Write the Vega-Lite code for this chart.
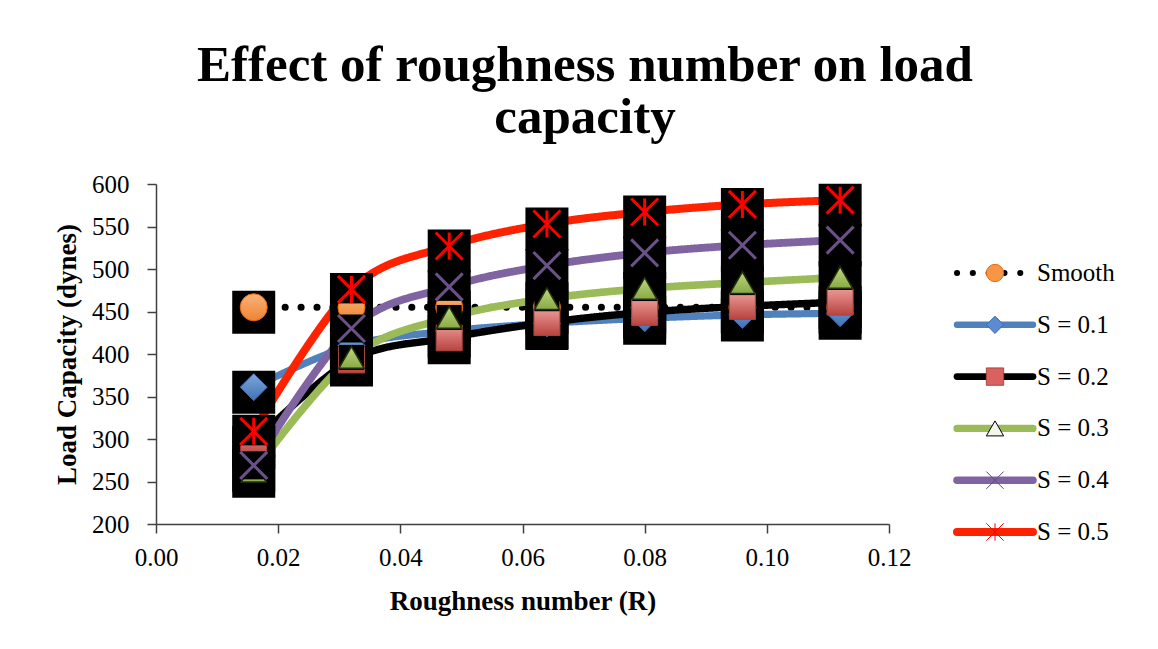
{
  "$schema": "https://vega.github.io/schema/vega-lite/v6.json",
  "background": "white",
  "padding": {"left": 53, "top": 40, "right": 4, "bottom": 4},
  "bounds": "flush",
  "spacing": 0,
  "title": {
    "text": ["Effect of roughness number on load", "capacity"],
    "font": "Liberation Serif",
    "fontSize": 51,
    "fontWeight": "bold",
    "color": "black",
    "anchor": "start",
    "align": "center",
    "frame": "group",
    "lineHeight": 52,
    "offset": 28,
    "dx": 429
  },
  "config": {
    "view": {"stroke": null},
    "axis": {
      "labelFont": "Liberation Serif",
      "labelFontSize": 25,
      "labelColor": "black",
      "labelFlush": false,
      "labelOverlap": false,
      "titleFont": "Liberation Serif",
      "titleFontSize": 27,
      "titleFontWeight": "bold",
      "titleColor": "black",
      "domainColor": "#404040",
      "tickColor": "#404040",
      "domainWidth": 1.5,
      "tickWidth": 1.5,
      "tickSize": 9,
      "grid": false
    }
  },
  "datasets": {
    "pts": [
      {"series": "Smooth", "x": 0.016, "load": 455},
      {"series": "Smooth", "x": 0.032, "load": 455},
      {"series": "Smooth", "x": 0.048, "load": 455},
      {"series": "Smooth", "x": 0.064, "load": 455},
      {"series": "Smooth", "x": 0.080, "load": 455},
      {"series": "Smooth", "x": 0.096, "load": 455},
      {"series": "Smooth", "x": 0.112, "load": 455},
      {"series": "S = 0.1", "x": 0.016, "load": 361},
      {"series": "S = 0.1", "x": 0.032, "load": 410},
      {"series": "S = 0.1", "x": 0.048, "load": 427},
      {"series": "S = 0.1", "x": 0.064, "load": 436},
      {"series": "S = 0.1", "x": 0.080, "load": 442},
      {"series": "S = 0.1", "x": 0.096, "load": 446},
      {"series": "S = 0.1", "x": 0.112, "load": 448},
      {"series": "S = 0.2", "x": 0.016, "load": 296},
      {"series": "S = 0.2", "x": 0.032, "load": 393},
      {"series": "S = 0.2", "x": 0.048, "load": 419},
      {"series": "S = 0.2", "x": 0.064, "load": 437},
      {"series": "S = 0.2", "x": 0.080, "load": 449},
      {"series": "S = 0.2", "x": 0.096, "load": 456},
      {"series": "S = 0.2", "x": 0.112, "load": 461},
      {"series": "S = 0.3", "x": 0.016, "load": 262},
      {"series": "S = 0.3", "x": 0.032, "load": 396},
      {"series": "S = 0.3", "x": 0.048, "load": 443},
      {"series": "S = 0.3", "x": 0.064, "load": 465},
      {"series": "S = 0.3", "x": 0.080, "load": 477},
      {"series": "S = 0.3", "x": 0.096, "load": 484},
      {"series": "S = 0.3", "x": 0.112, "load": 490},
      {"series": "S = 0.4", "x": 0.016, "load": 269},
      {"series": "S = 0.4", "x": 0.032, "load": 430},
      {"series": "S = 0.4", "x": 0.048, "load": 479},
      {"series": "S = 0.4", "x": 0.064, "load": 504},
      {"series": "S = 0.4", "x": 0.080, "load": 519},
      {"series": "S = 0.4", "x": 0.096, "load": 528},
      {"series": "S = 0.4", "x": 0.112, "load": 534},
      {"series": "S = 0.5", "x": 0.016, "load": 309},
      {"series": "S = 0.5", "x": 0.032, "load": 476},
      {"series": "S = 0.5", "x": 0.048, "load": 527},
      {"series": "S = 0.5", "x": 0.064, "load": 553},
      {"series": "S = 0.5", "x": 0.080, "load": 567},
      {"series": "S = 0.5", "x": 0.096, "load": 576},
      {"series": "S = 0.5", "x": 0.112, "load": 581}
    ],
    "leg": [
      {"series": "Smooth"},
      {"series": "S = 0.1"},
      {"series": "S = 0.2"},
      {"series": "S = 0.3"},
      {"series": "S = 0.4"},
      {"series": "S = 0.5"}
    ]
  },
  "hconcat": [
    {
      "width": 733,
      "height": 340,
      "data": {"name": "pts"},
      "encoding": {
        "x": {
          "field": "x",
          "type": "quantitative",
          "scale": {"domain": [0, 0.12], "nice": false},
          "axis": {
            "values": [0, 0.02, 0.04, 0.06, 0.08, 0.1, 0.12],
            "format": ".2f",
            "title": "Roughness number (R)",
            "labelPadding": 12,
            "titlePadding": 18
          }
        },
        "y": {
          "field": "load",
          "type": "quantitative",
          "scale": {"domain": [200, 600], "nice": false, "zero": false},
          "axis": {
            "values": [200, 250, 300, 350, 400, 450, 500, 550, 600],
            "title": "Load Capacity (dynes)",
            "labelPadding": 18,
            "titlePadding": 10
          }
        }
      },
      "layer": [
        {
          "mark": {"type": "line", "interpolate": "cardinal", "strokeCap": "round", "strokeJoin": "round"},
          "encoding": {
            "stroke": {"field": "series", "type": "nominal", "scale": {"domain": ["Smooth", "S = 0.1", "S = 0.2", "S = 0.3", "S = 0.4", "S = 0.5"], "range": ["#000000", "#4F81BD", "#000000", "#9BBB59", "#8064A2", "#FF2200"]}, "legend": null},
            "strokeDash": {"field": "series", "type": "nominal", "scale": {"domain": ["Smooth", "S = 0.1", "S = 0.2", "S = 0.3", "S = 0.4", "S = 0.5"], "range": [[0.1, 15.7], [1, 0], [1, 0], [1, 0], [1, 0], [1, 0]]}, "legend": null},
            "strokeWidth": {"field": "series", "type": "ordinal", "scale": {"domain": ["Smooth", "S = 0.1", "S = 0.2", "S = 0.3", "S = 0.4", "S = 0.5"], "range": [7, 8, 10, 9, 9, 9]}, "legend": null}
          }
        },
        {
          "mark": {"type": "point", "shape": "square", "filled": true, "fill": "black", "strokeWidth": 0, "size": 1849, "yOffset": 5, "opacity": 1}
        },
        {
          "transform": [{"filter": "datum.series === 'Smooth'"}],
          "mark": {"type": "point", "shape": "circle", "filled": true, "opacity": 1, "size": 729, "stroke": "#E46C0A", "strokeWidth": 1,
            "fill": {"gradient": "linear", "x1": 0, "y1": 0, "x2": 0, "y2": 1, "stops": [{"offset": 0, "color": "#F9B27A"}, {"offset": 1, "color": "#EE8433"}]}}
        },
        {
          "transform": [{"filter": "datum.series === 'S = 0.1'"}],
          "mark": {"type": "point", "shape": "square", "filled": true, "fill": "black", "strokeWidth": 0, "size": 729, "opacity": 1}
        },
        {
          "transform": [{"filter": "datum.series === 'S = 0.1'"}],
          "mark": {"type": "point", "shape": "diamond", "filled": true, "opacity": 1, "size": 729, "stroke": "#3C6DB0", "strokeWidth": 1,
            "fill": {"gradient": "linear", "x1": 0, "y1": 0, "x2": 0, "y2": 1, "stops": [{"offset": 0, "color": "#7FA6DB"}, {"offset": 1, "color": "#3F72B5"}]}}
        },
        {
          "transform": [{"filter": "datum.series === 'S = 0.2'"}],
          "mark": {"type": "point", "shape": "square", "filled": true, "opacity": 1, "size": 676, "stroke": "#A94541", "strokeWidth": 1,
            "fill": {"gradient": "linear", "x1": 0, "y1": 0, "x2": 0, "y2": 1, "stops": [{"offset": 0, "color": "#EA9894"}, {"offset": 1, "color": "#B8433F"}]}}
        },
        {
          "transform": [{"filter": "datum.series === 'S = 0.3'"}],
          "mark": {"type": "point", "shape": "square", "filled": true, "fill": "black", "strokeWidth": 0, "size": 625, "opacity": 1}
        },
        {
          "transform": [{"filter": "datum.series === 'S = 0.3'"}],
          "mark": {"type": "point", "shape": "triangle-up", "filled": true, "opacity": 1, "size": 625, "stroke": "#26300F", "strokeWidth": 1.5,
            "fill": {"gradient": "linear", "x1": 0, "y1": 0, "x2": 0, "y2": 1, "stops": [{"offset": 0, "color": "#BDD77F"}, {"offset": 1, "color": "#88AA44"}]}}
        },
        {
          "transform": [{"filter": "datum.series === 'S = 0.4'"}],
          "mark": {"type": "point", "shape": "square", "filled": true, "fill": "black", "strokeWidth": 0, "size": 784, "opacity": 1}
        },
        {
          "transform": [{"filter": "datum.series === 'S = 0.4'"}],
          "mark": {"type": "point", "shape": "M-1,-1L1,1M-1,1L1,-1", "filled": false, "opacity": 1, "size": 729, "stroke": "#6A5288", "strokeWidth": 3}
        },
        {
          "transform": [{"filter": "datum.series === 'S = 0.5'"}],
          "mark": {"type": "point", "shape": "square", "filled": true, "fill": "black", "strokeWidth": 0, "size": 784, "opacity": 1}
        },
        {
          "transform": [{"filter": "datum.series === 'S = 0.5'"}],
          "mark": {"type": "point", "shape": "M-1,-1L1,1M-1,1L1,-1M0,-1L0,1", "filled": false, "opacity": 1, "size": 729, "stroke": "#FF0000", "strokeWidth": 3}
        }
      ]
    },
    {
      "width": 260,
      "height": 360,
      "data": {"name": "leg"},
      "resolve": {"scale": {"stroke": "independent", "strokeWidth": "independent"}},
      "encoding": {
        "y": {"field": "series", "type": "nominal", "scale": {"type": "point", "domain": ["Smooth", "S = 0.1", "S = 0.2", "S = 0.3", "S = 0.4", "S = 0.5"], "range": [89, 348], "padding": 0}, "axis": null}
      },
      "layer": [
        {
          "mark": {"type": "rule", "strokeCap": "round"},
          "encoding": {
            "x": {"datum": 68, "type": "quantitative", "scale": {"domain": [0, 260], "nice": false, "zero": true}, "axis": null},
            "x2": {"datum": 144},
            "stroke": {"field": "series", "type": "nominal", "scale": {"domain": ["Smooth", "S = 0.1", "S = 0.2", "S = 0.3", "S = 0.4", "S = 0.5"], "range": ["#000000", "#4F81BD", "#000000", "#9BBB59", "#8064A2", "#FF2200"]}, "legend": null},
            "strokeDash": {"field": "series", "type": "nominal", "scale": {"domain": ["Smooth", "S = 0.1", "S = 0.2", "S = 0.3", "S = 0.4", "S = 0.5"], "range": [[0.1, 15.2], [1, 0], [1, 0], [1, 0], [1, 0], [1, 0]]}, "legend": null},
            "strokeWidth": {"field": "series", "type": "ordinal", "scale": {"domain": ["Smooth", "S = 0.1", "S = 0.2", "S = 0.3", "S = 0.4", "S = 0.5"], "range": [6, 8, 8, 8, 8, 9]}, "legend": null}
          }
        },
        {
          "mark": {"type": "point", "filled": true, "opacity": 1, "size": 300},
          "encoding": {
            "x": {"datum": 106, "type": "quantitative"},
            "shape": {"field": "series", "type": "nominal", "scale": {"domain": ["Smooth", "S = 0.1", "S = 0.2", "S = 0.3", "S = 0.4", "S = 0.5"], "range": ["circle", "diamond", "square", "triangle-up", "M-1,-1L1,1M-1,1L1,-1", "M-1,-1L1,1M-1,1L1,-1M0,-1L0,1"]}, "legend": null},
            "fill": {"field": "series", "type": "nominal", "scale": {"domain": ["Smooth", "S = 0.1", "S = 0.2", "S = 0.3", "S = 0.4", "S = 0.5"], "range": ["#F79646", "#5B8BD0", "#D9625E", "#F3F7EA", "transparent", "transparent"]}, "legend": null},
            "stroke": {"field": "series", "type": "nominal", "scale": {"domain": ["Smooth", "S = 0.1", "S = 0.2", "S = 0.3", "S = 0.4", "S = 0.5"], "range": ["#E46C0A", "#3C6DB0", "#A94541", "#000000", "#5F4A7E", "#FF0000"]}, "legend": null},
            "strokeWidth": {"field": "series", "type": "ordinal", "scale": {"domain": ["Smooth", "S = 0.1", "S = 0.2", "S = 0.3", "S = 0.4", "S = 0.5"], "range": [1, 1, 1, 2, 2, 2]}, "legend": null}
          }
        },
        {
          "mark": {"type": "text", "align": "left", "baseline": "middle", "font": "Liberation Serif", "fontSize": 25, "color": "black"},
          "encoding": {
            "x": {"datum": 148, "type": "quantitative"},
            "text": {"field": "series", "type": "nominal"}
          }
        }
      ]
    }
  ]
}
